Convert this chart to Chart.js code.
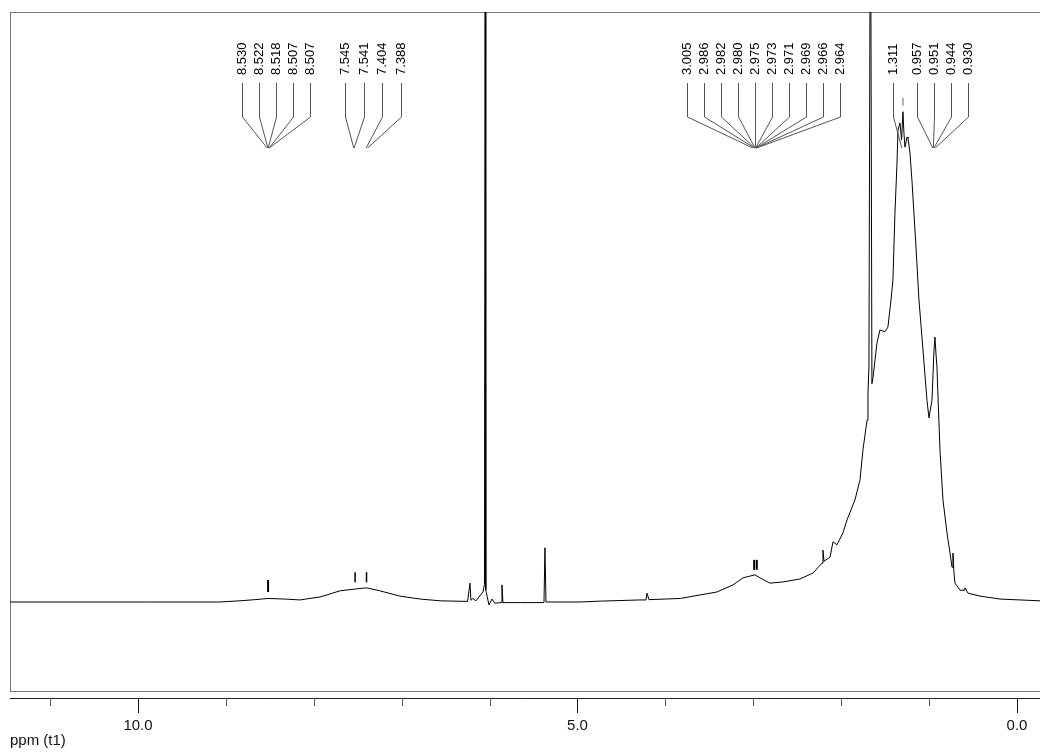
<!DOCTYPE html>
<html>
<head>
<meta charset="utf-8">
<title>1H NMR spectrum</title>
<script src="https://cdn.jsdelivr.net/npm/chart.js@4.4.1/dist/chart.umd.min.js"></script>
<style>
  html, body { margin: 0; padding: 0; background: #fff; }
  #wrap { width: 1040px; height: 753px; }
</style>
</head>
<body>
<div id="wrap"><canvas id="nmr"></canvas></div>
<script>
// spectrum trace: chemical shift (ppm) and intensity
const shiftPpm = [
  11.46, 9.86, 9.07, 8.84, 8.67, 8.52, 8.33, 8.16, 7.93, 7.70, 7.53, 7.40, 7.25, 7.02, 6.79, 6.56,
  6.25, 6.223, 6.212, 6.19, 6.155, 6.075, 6.058, 6.050, 6.043, 6.007, 5.973, 5.94,
  5.870, 5.859, 5.848, 5.65, 5.381, 5.370, 5.358, 4.97, 4.74, 4.29, 4.221, 4.209, 4.187,
  3.83, 3.606, 3.413, 3.231, 3.117, 2.981, 2.924, 2.810, 2.662, 2.469, 2.321,
  2.218, 2.207, 2.196, 2.127, 2.093, 2.048, 1.980, 1.934, 1.843, 1.786, 1.752, 1.706, 1.695, 1.684,
  1.667, 1.650, 1.638, 1.593, 1.559, 1.502, 1.468, 1.433, 1.411, 1.388, 1.365, 1.354, 1.331,
  1.313, 1.297, 1.286, 1.274, 1.251, 1.240, 1.217, 1.195, 1.149, 1.115, 1.069, 1.024, 1.001,
  0.967, 0.944, 0.933, 0.922, 0.910, 0.904, 0.876, 0.842, 0.796, 0.762, 0.739, 0.728, 0.717,
  0.705, 0.648, 0.600, 0.592, 0.557, 0.421, 0.193, -0.262
];
const intensity = [
  0, 0, 0, 0.2, 0.4, 0.6, 0.5, 0.35, 0.85, 1.9, 2.2, 2.4, 1.9, 1.0, 0.5, 0.2,
  0.1, 3.2, 0.3, 0.6, 0.2, 1.7, 3.0, 130, 2.0, -0.5, 0.5, -0.2,
  -0.1, 2.9, -0.1, -0.1, -0.1, 9.2, 0, 0, 0.15, 0.35, 0.35, 1.5, 0.4,
  0.6, 1.2, 1.7, 2.9, 4.1, 4.6, 4.1, 3.2, 3.4, 3.9, 4.9,
  6.6, 8.8, 6.9, 7.6, 10.2, 9.7, 11.7, 13.9, 17.3, 20.7, 25.8, 30.8, 35.4, 39.8,
  130, 37, 38.0, 43.9, 46.1, 45.8, 46.6, 51.2, 54.6, 65.9, 74.4, 80.0, 81.2,
  78.3, 83.1, 79.5, 77.1, 78.8, 78.6, 76.1, 71.5, 60.2, 51.2, 42.7, 34.2, 31.2,
  34.2, 42.7, 44.9, 42.2, 39.8, 37.1, 25.8, 17.3, 11.7, 8.3, 5.9, 8.3, 5.0,
  3.2, 2.0, 2.0, 2.4, 1.5, 1.0, 0.5, 0.2
];

// picked peaks (small bars drawn above the trace)
const markerPpm = [8.52, 7.53, 7.40, 2.99, 2.96, 1.297];
const markerLevel = [2.7, 4.2, 4.2, 6.3, 6.3, 84.8];

// peak lists printed along the top
const peakGroups = [
  [8.530, 8.522, 8.518, 8.507, 8.507],
  [7.545, 7.541, 7.404, 7.388],
  [3.005, 2.986, 2.982, 2.980, 2.975, 2.973, 2.971, 2.969, 2.966, 2.964],
  [1.311],
  [0.957, 0.951, 0.944, 0.930]
];

// axis ticks (ppm)
const axisTicks = [0, 1, 2, 3, 4, 5, 6, 7, 8, 9, 10, 11];

const FONT = '"Liberation Sans", Arial, sans-serif';

// frame, axis tick marks and axis caption
const decor = {
  id: 'decor',
  beforeDatasetsDraw(chart) {
    const {ctx, chartArea} = chart;
    ctx.save();
    ctx.strokeStyle = '#777';
    ctx.lineWidth = 1;
    ctx.strokeRect(chartArea.left + 0.5, chartArea.top + 0.5, chartArea.right - chartArea.left + 10, 679);
    ctx.restore();
  },
  afterDraw(chart) {
    const {ctx, chartArea} = chart;
    const xs = chart.scales.x;
    ctx.save();
    ctx.lineWidth = 1;
    axisTicks.forEach(v => {
      const px = Math.round(xs.getPixelForValue(v)) + 0.5;
      const major = v % 5 === 0;
      ctx.strokeStyle = major ? '#111' : '#555';
      ctx.beginPath();
      ctx.moveTo(px, chartArea.bottom);
      ctx.lineTo(px, chartArea.bottom + (major ? 15 : 8));
      ctx.stroke();
    });
    ctx.fillStyle = '#111';
    ctx.font = '15px ' + FONT;
    ctx.textAlign = 'left';
    ctx.textBaseline = 'alphabetic';
    ctx.fillText('ppm (t1)', 10, 745);
    ctx.restore();
  }
};

// rotated peak labels with connector lines
const peakLabels = {
  id: 'peakLabels',
  afterDraw(chart, args, opts) {
    const {ctx} = chart;
    const xs = chart.scales.x;
    ctx.save();
    ctx.font = '13px ' + FONT;
    ctx.fillStyle = '#000';
    ctx.strokeStyle = '#555';
    ctx.lineWidth = 1;
    peakGroups.forEach((grp, g) => {
      const cx = xs.getPixelForValue(opts.centres[g]);
      const step = opts.steps[g];
      grp.forEach((ppm, i) => {
        const lx = Math.round(cx + (i - (grp.length - 1) / 2) * step) + 0.5;
        const tx = xs.getPixelForValue(ppm);
        ctx.beginPath();
        ctx.moveTo(lx, opts.stemTop);
        ctx.lineTo(lx, opts.stemBottom);
        ctx.lineTo(tx, opts.apex);
        ctx.stroke();
        ctx.save();
        ctx.translate(lx, opts.textBottom);
        ctx.rotate(-Math.PI / 2);
        ctx.textAlign = 'left';
        ctx.textBaseline = 'middle';
        ctx.fillText(ppm.toFixed(3), 0, 0);
        ctx.restore();
      });
    });
    ctx.restore();
  }
};

const trace = shiftPpm.map((x, i) => ({x: x, y: intensity[i]}));
const marks = markerPpm.map((x, i) => ({x: x, y: markerLevel[i]}));

new Chart(document.getElementById('nmr'), {
  type: 'scatter',
  data: {
    datasets: [
      {
        data: trace,
        showLine: true,
        borderColor: '#000',
        borderWidth: 1,
        pointRadius: 0,
        tension: 0
      },
      {
        data: marks,
        pointStyle: 'line',
        rotation: 90,
        pointRadius: [6, 5, 5, 5, 5, 4],
        borderColor: ['#000', '#000', '#000', '#000', '#000', '#999'],
        pointBorderWidth: [2, 1.5, 1.5, 2, 2, 1.5],
        borderWidth: 2
      }
    ]
  },
  options: {
    responsive: true,
    maintainAspectRatio: false,
    animation: false,
    layout: { autoPadding: false, padding: { left: 10, top: 12, right: 0, bottom: 0 } },
    plugins: {
      legend: { display: false },
      tooltip: { enabled: false },
      peakLabels: {
        centres: [8.430, 7.327, 2.884, 1.411, 0.848],
        steps: [17, 18.7, 17, 17, 17],
        textBottom: 75,
        stemTop: 83,
        stemBottom: 117,
        apex: 148
      }
    },
    scales: {
      x: {
        type: 'linear',
        reverse: true,
        min: -0.262,
        max: 11.456,
        grid: { display: false, drawTicks: false },
        border: { display: true, color: '#222', width: 1 },
        afterBuildTicks: s => { s.ticks = axisTicks.map(v => ({value: v})); },
        afterFit: s => { s.height = 55; s.paddingLeft = 0; s.paddingRight = 0; },
        ticks: {
          autoSkip: false,
          maxRotation: 0,
          padding: 19,
          color: '#111',
          font: { family: FONT, size: 15 },
          callback: v => (v % 5 === 0 ? v.toFixed(1) : '')
        }
      },
      y: {
        display: false,
        min: -16.27,
        max: 100
      }
    }
  },
  plugins: [decor, peakLabels]
});
</script>
</body>
</html>
